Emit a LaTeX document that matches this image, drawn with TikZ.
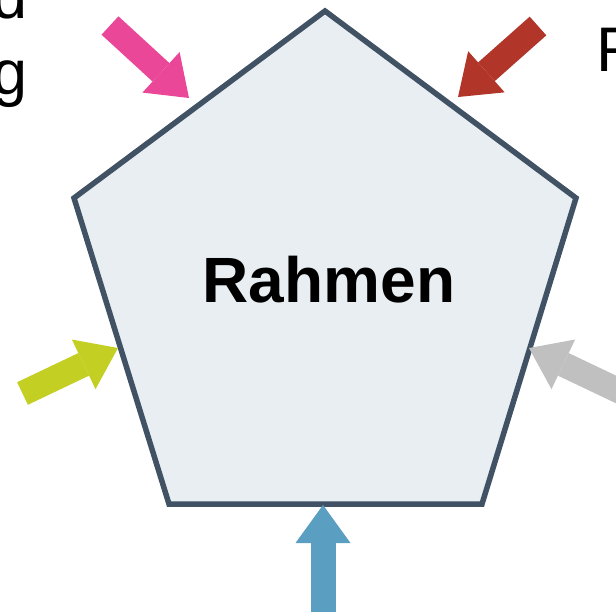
\documentclass[tikz,border=0pt]{standalone}
\usepackage{fontspec}
\setmainfont{Liberation Sans}
\usetikzlibrary{arrows.meta}
\definecolor{edgeslate}{HTML}{405264}
\definecolor{panelfill}{HTML}{E8EEF1}
\definecolor{arrowpink}{HTML}{EA4799}
\definecolor{arrowred}{HTML}{B13528}
\definecolor{arrowlime}{HTML}{C3CF22}
\definecolor{arrowgray}{HTML}{C0C0C0}
\definecolor{arrowblue}{HTML}{5A9EC1}
\begin{document}
\begin{tikzpicture}[x=1pt,y=-1pt,
  fatarrow/.style={line width=25pt,
    -{Triangle[length=38pt,width=55pt,line width=0pt]}},
  sidetext/.style={inner sep=0pt,font=\fontsize{63}{76}\selectfont},
  framebox/.style={draw=edgeslate,fill=panelfill,line width=5.5pt,line join=miter}]
\useasboundingbox (0,0) rectangle (616,614);
\clip (0,0) rectangle (616,614);

% pentagon corners
\coordinate (top) at (325,11);
\coordinate (rgt) at (576,198);
\coordinate (brt) at (482,504);
\coordinate (blt) at (169,504);
\coordinate (lft) at (74,198);
\draw[framebox] (top) -- (rgt) -- (brt) -- (blt) -- (lft) -- cycle;

\node[inner sep=0pt,anchor=base,font=\fontsize{64}{76}\selectfont\bfseries]
  (title) at (329,302) {Rahmen};

% partially visible side labels
\node[sidetext,anchor=base east] (ltop) at (28,18) {d};
\node[sidetext,anchor=base east] (lbot) at (28,94) {g};
\node[sidetext,anchor=base west] (rtop) at (596,71) {R};

% arrow ends
\coordinate (pinkA) at (110,25.5);  \coordinate (pinkB) at (189,98);
\coordinate (redA)  at (538,26);    \coordinate (redB)  at (458,97);
\coordinate (limeA) at (22.5,393.5);\coordinate (limeB) at (118,348);
\coordinate (grayA) at (624.5,393.5);\coordinate (grayB) at (529,348);
\coordinate (blueA) at (323,612);   \coordinate (blueB) at (323,505);

\draw[fatarrow,arrowpink] (pinkA) -- (pinkB);
\draw[fatarrow,arrowred]  (redA)  -- (redB);
\draw[fatarrow,arrowlime] (limeA) -- (limeB);
\draw[fatarrow,arrowgray] (grayA) -- (grayB);
\draw[fatarrow,arrowblue] (blueA) -- (blueB);
\end{tikzpicture}
\end{document}
